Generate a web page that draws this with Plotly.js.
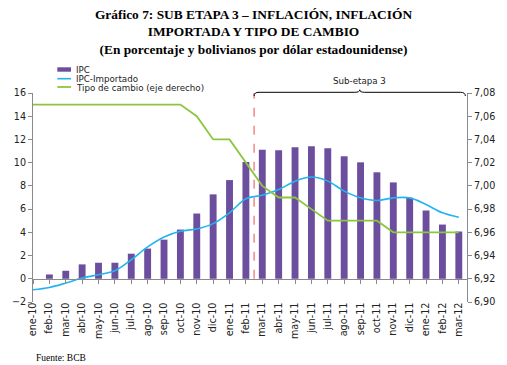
<!DOCTYPE html>
<html>
<head>
<meta charset="utf-8">
<script src="https://cdn.plot.ly/plotly-3.0.1.min.js"></script>
<style>html,body{margin:0;padding:0;background:#fff;}#chart{width:507px;height:365px;}</style>
</head>
<body>
<div id="chart"></div>
<script>
const categories = ['ene-10','feb-10','mar-10','abr-10','may-10','jun-10','jul-10','ago-10','sep-10','oct-10','nov-10','dic-10','ene-11','feb-11','mar-11','abr-11','may-11','jun-11','jul-11','ago-11','sep-11','oct-11','nov-11','dic-11','ene-12','feb-12','mar-12'];
const ipc = [0, 0.37, 0.69, 1.24, 1.38, 1.38, 2.16, 2.6, 3.37, 4.24, 5.62, 7.27, 8.5, 10.06, 11.12, 11.07, 11.33, 11.42, 11.25, 10.55, 10.03, 9.17, 8.3, 6.98, 5.88, 4.67, 4.07];
const ipcImportado = [-0.95, -0.75, -0.37, 0.06, 0.35, 0.69, 1.64, 2.74, 3.6, 4.09, 4.29, 4.75, 5.68, 6.89, 7.2, 7.69, 8.41, 8.76, 8.41, 7.55, 6.97, 6.74, 6.97, 6.97, 6.4, 5.68, 5.3];
const tipoCambio = [7.07, 7.07, 7.07, 7.07, 7.07, 7.07, 7.07, 7.07, 7.07, 7.07, 7.06, 7.04, 7.04, 7.02, 7.00, 6.99, 6.99, 6.98, 6.97, 6.97, 6.97, 6.97, 6.96, 6.96, 6.96, 6.96, 6.96];
const seriesNames = ['IPC', 'IPC-Importado', 'Tipo de cambio (eje derecho)'];
const leftTicks = [-2, 0, 2, 4, 6, 8, 10, 12, 14, 16];
const rightTicks = [6.90, 6.92, 6.94, 6.96, 6.98, 7.00, 7.02, 7.04, 7.06, 7.08];
const subEtapaStart = 'mar-11';

const cPurple = '#6B4E9E', cBlue = '#22B4EE', cGreen = '#8CC63F', cRed = '#F06A6A', cAxis = '#8A8A8A';
const tickFont = {family: 'DejaVu Sans', size: 9.6, color: '#222'};
const smallFont = {family: 'DejaVu Sans', size: 8.7, color: '#222'};

const traces = [
  {type: 'bar', x: categories, y: ipc, name: seriesNames[0], marker: {color: cPurple}, width: 0.42, showlegend: false, hoverinfo: 'x+y'},
  {type: 'scatter', mode: 'lines', x: categories, y: ipcImportado, name: seriesNames[1], line: {color: cBlue, width: 1.6, shape: 'spline', smoothing: 1}, showlegend: false},
  {type: 'scatter', mode: 'lines', x: categories, y: tipoCambio, name: seriesNames[2], yaxis: 'y2', line: {color: cGreen, width: 1.8}, showlegend: false}
];

const H = 209, W = 434, L = 33, B = 302; // plot area in px
const px2x = p => (p - L) / W;
const px2y = p => (B - p) / H;
const splitIdx = categories.indexOf(subEtapaStart) - 0.5;
const endIdx = categories.length - 0.6;
const midIdx = (splitIdx + endIdx) / 2;
const yb = px2y(92.3), yEnd = px2y(96), yPeak = px2y(89.8);
const bracePath = `M ${splitIdx},${yEnd} Q ${splitIdx},${yb} ${splitIdx+0.3},${yb} L ${midIdx-0.3},${yb} Q ${midIdx},${yb} ${midIdx},${yPeak} Q ${midIdx},${yb} ${midIdx+0.3},${yb} L ${endIdx-0.3},${yb} Q ${endIdx},${yb} ${endIdx},${yEnd}`;

const layout = {
  width: 507, height: 365,
  margin: {l: 33, r: 40, t: 93, b: 63},
  paper_bgcolor: '#fff', plot_bgcolor: '#fff',
  separators: ',.',
  bargap: 0.58,
  showlegend: false,
  title: {
    text: '<b>Gráfico 7: SUB ETAPA 3 – INFLACIÓN, INFLACIÓN<br>IMPORTADA Y TIPO DE CAMBIO<br>(En porcentaje y bolivianos por dólar estadounidense)</b>',
    font: {family: 'Liberation Serif', size: 13.4, color: '#000'},
    x: 0.5, xref: 'container', xanchor: 'center',
    y: 1 - 19/365, yref: 'container', yanchor: 'middle'
  },
  xaxis: {
    type: 'category', range: [0, 26.5],
    anchor: 'free', position: 2/18,
    showline: true, linecolor: cAxis, linewidth: 1,
    ticks: 'outside', ticklen: 4, tickcolor: cAxis,
    tickangle: -90, tickfont: tickFont, ticklabelstandoff: 15,
    showgrid: false, zeroline: false, fixedrange: true
  },
  yaxis: {
    range: [-2, 16], tickvals: leftTicks,
    showline: true, linecolor: cAxis, linewidth: 1,
    ticks: 'outside', ticklen: 4, tickcolor: cAxis,
    tickfont: tickFont, showgrid: false, zeroline: false
  },
  yaxis2: {
    range: [6.90, 7.08], tickvals: rightTicks, tickformat: '.2f',
    overlaying: 'y', side: 'right', anchor: 'x',
    showline: true, linecolor: cAxis, linewidth: 1,
    ticks: 'outside', ticklen: 4, tickcolor: cAxis,
    tickfont: tickFont, showgrid: false, zeroline: false
  },
  shapes: [
    {type: 'line', xref: 'x', yref: 'y', x0: splitIdx, x1: splitIdx, y0: 0, y1: 16, line: {color: cRed, width: 1.2, dash: 'dash'}},
    {type: 'path', xref: 'x', yref: 'paper', path: bracePath, line: {color: '#000', width: 1}},
    {type: 'rect', xref: 'paper', yref: 'paper', x0: px2x(57.3), x1: px2x(71), y0: px2y(71.7), y1: px2y(67.3), fillcolor: cPurple, line: {width: 0}},
    {type: 'line', xref: 'paper', yref: 'paper', x0: px2x(57.3), x1: px2x(71), y0: px2y(78.7), y1: px2y(78.7), line: {color: cBlue, width: 1.6}},
    {type: 'line', xref: 'paper', yref: 'paper', x0: px2x(57.3), x1: px2x(71), y0: px2y(87), y1: px2y(87), line: {color: cGreen, width: 1.8}}
  ],
  annotations: [
    {text: seriesNames[0], xref: 'paper', yref: 'paper', x: px2x(73.5), y: px2y(70), xanchor: 'left', yanchor: 'middle', showarrow: false, font: smallFont},
    {text: seriesNames[1], xref: 'paper', yref: 'paper', x: px2x(73.5), y: px2y(79), xanchor: 'left', yanchor: 'middle', showarrow: false, font: smallFont},
    {text: seriesNames[2], xref: 'paper', yref: 'paper', x: px2x(73.5), y: px2y(88), xanchor: 'left', yanchor: 'middle', showarrow: false, font: smallFont},
    {text: 'Sub-etapa 3', xref: 'x', yref: 'paper', x: midIdx, y: px2y(80.7), xanchor: 'center', yanchor: 'middle', showarrow: false, font: smallFont},
    {text: 'Fuente: BCB', xref: 'paper', yref: 'paper', x: px2x(34), y: px2y(357.5), xanchor: 'left', yanchor: 'middle', showarrow: false, font: {family: 'Liberation Serif', size: 9.5, color: '#000'}}
  ]
};

Plotly.newPlot('chart', traces, layout, {staticPlot: true, displayModeBar: false});
</script>
</body>
</html>
